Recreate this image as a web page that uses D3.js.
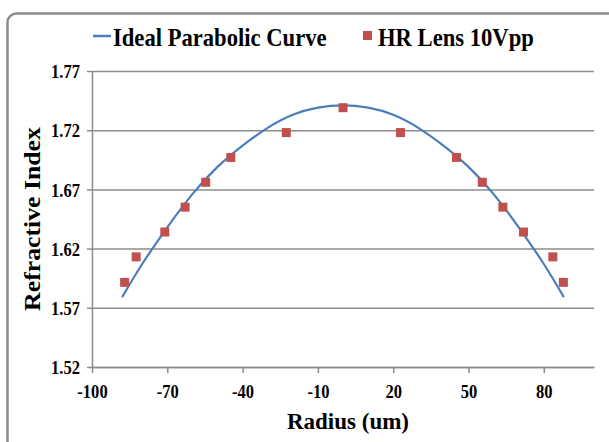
<!DOCTYPE html>
<meta charset="utf-8">
<style>
    body { margin: 0; background: #fff; }
    text { font-family: "Liberation Serif", "Times New Roman", serif; font-weight: bold; fill: #000; }
</style>
<body>
    <div id="chart"></div>
</body>
<script src="https://cdn.jsdelivr.net/npm/d3@7"></script>
<script>
    var svg_width = 609,
        svg_height = 442;

    // measured points (HR lens, 10 Vpp)
    var radius = [-87, -82.4, -71, -62.9, -54.7, -44.7, -22.6, 0, 22.9, 45.2, 55.5, 63.7, 71.9, 83.6, 87.8];
    var hr_index = [1.5915, 1.613, 1.634, 1.655, 1.676, 1.697, 1.718, 1.739, 1.718, 1.697, 1.676, 1.655, 1.634, 1.613, 1.5915];

    // ideal curve
    var curve_radius = [-88, -80, -70, -60, -50, -40, -30, -20, -10, 0, 10, 20, 30, 40, 50, 60, 70, 80, 88];
    var curve_index = [1.579, 1.607, 1.638, 1.666, 1.689, 1.707, 1.722, 1.733, 1.739, 1.741, 1.739, 1.733, 1.722, 1.707, 1.689, 1.666, 1.638, 1.607, 1.579];

    var x_ticks = [-100, -70, -40, -10, 20, 50, 80];
    var y_ticks = [1.52, 1.57, 1.62, 1.67, 1.72, 1.77];
    var series_names = ["Ideal Parabolic Curve", "HR Lens 10Vpp"];

    var plot = {left: 92, right: 594, top: 71, bottom: 367};
    var squeeze = 0.87;   // the text in the original is a bit narrow
    var grey = "#8c8c8c";

    var x = d3.scaleLinear().domain([-100, 100]).range([plot.left, plot.right]);
    var y = d3.scaleLinear().domain([1.52, 1.77]).range([plot.bottom, plot.top]);

    var svg = d3.select("#chart").append("svg")
        .attr("width", svg_width)
        .attr("height", svg_height);

    // outer frame, runs off the right and bottom
    svg.append("rect")
        .attr("x", 7.5).attr("y", 13.5)
        .attr("width", 640).attr("height", 470)
        .attr("rx", 9)
        .style("fill", "none")
        .style("stroke", grey)
        .style("stroke-width", 2.5);

    // gridlines
    var grid = svg.append("g")
        .attr("transform", "translate(" + plot.left + ",0)")
        .call(d3.axisLeft(y).tickValues(y_ticks).tickSize(-(plot.right - plot.left)).tickFormat(""));
    grid.select(".domain").remove();
    grid.selectAll("line").style("stroke", grey).style("stroke-width", 1.5);

    // y axis
    var y_axis = svg.append("g")
        .attr("transform", "translate(" + plot.left + ",0)")
        .call(d3.axisLeft(y).tickValues(y_ticks).tickSize(5).tickSizeOuter(0).tickFormat(d3.format(".2f")));
    y_axis.select(".domain").style("stroke", grey).style("stroke-width", 1.5);
    y_axis.selectAll("line").style("stroke", grey).style("stroke-width", 1.5);
    y_axis.selectAll("text")
        .attr("x", -12 / squeeze)
        .attr("dy", "0.35em")
        .attr("transform", "scale(" + squeeze + ",1)")
        .style("font-size", "19px");

    // x axis (plain hyphen for the minus, like the original)
    var x_axis = svg.append("g")
        .attr("transform", "translate(0," + plot.bottom + ")")
        .call(d3.axisBottom(x).tickValues(x_ticks).tickSize(6).tickSizeOuter(0)
            .tickFormat(function(d) { return String(d); }));
    x_axis.select(".domain").style("stroke", grey).style("stroke-width", 1.5);
    x_axis.selectAll("line").style("stroke", grey).style("stroke-width", 1.5);
    x_axis.selectAll("text")
        .attr("y", 31)
        .attr("dy", 0)
        .attr("transform", "scale(" + squeeze + ",1)")
        .style("font-size", "19px");

    // ideal curve
    var line = d3.line()
        .x(function(d) { return x(d[0]); })
        .y(function(d) { return y(d[1]); })
        .curve(d3.curveNatural);

    svg.append("path")
        .datum(d3.zip(curve_radius, curve_index))
        .attr("d", line)
        .style("fill", "none")
        .style("stroke", "#4a7ebb")
        .style("stroke-width", 2.2);

    // measured points
    svg.append("g")
        .selectAll("rect")
        .data(d3.zip(radius, hr_index))
        .enter()
            .append("rect")
            .attr("x", function(d) { return x(d[0]) - 4.5; })
            .attr("y", function(d) { return y(d[1]) - 4.5; })
            .attr("width", 9)
            .attr("height", 9)
            .style("fill", "#c0504d");

    // legend
    var legend = svg.append("g");
    legend.append("line")
        .attr("x1", 93).attr("x2", 111)
        .attr("y1", 36).attr("y2", 36)
        .style("stroke", "#4a7ebb")
        .style("stroke-width", 2.5);
    legend.append("text")
        .attr("transform", "translate(113,45.5) scale(" + squeeze + ",1)")
        .style("font-size", "26px")
        .text(series_names[0]);
    legend.append("rect")
        .attr("x", 363).attr("y", 31)
        .attr("width", 9).attr("height", 9)
        .style("fill", "#c0504d");
    legend.append("text")
        .attr("transform", "translate(378,45.5) scale(" + squeeze + ",1)")
        .style("font-size", "26px")
        .text(series_names[1]);

    // axis titles
    svg.append("text")
        .attr("x", 348).attr("y", 429)
        .attr("text-anchor", "middle")
        .style("font-size", "23px")
        .text("Radius (um)");

    svg.append("text")
        .attr("transform", "translate(40," + ((plot.top + plot.bottom) / 2) + ") rotate(-90) scale(1.12,1)")
        .attr("text-anchor", "middle")
        .style("font-size", "23px")
        .text("Refractive Index");
</script>
